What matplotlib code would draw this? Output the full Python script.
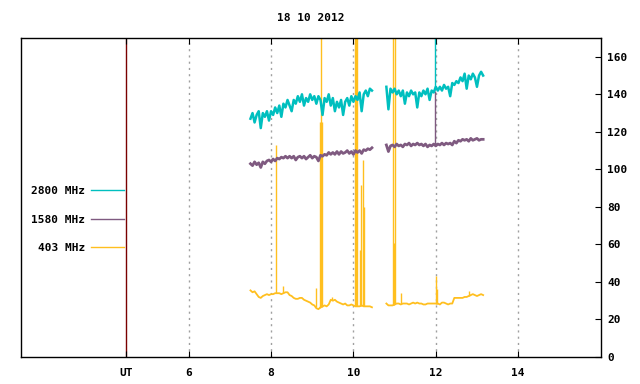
"""Solar radio flux record, 18 10 2012 (three frequencies, UT hours)."""

import numpy as np
import matplotlib
matplotlib.use("Agg")
import matplotlib.pyplot as plt

# time grid of the two recording segments (UT hours)
t_seg1 = [7.50, 7.55, 7.60, 7.65, 7.70, 7.75, 7.80, 7.85, 7.90, 7.95,
          8.00, 8.05, 8.10, 8.15, 8.20, 8.25, 8.30, 8.35, 8.40, 8.45,
          8.50, 8.55, 8.60, 8.65, 8.70, 8.75, 8.80, 8.85, 8.90, 8.95,
          9.00, 9.05, 9.10, 9.15, 9.20, 9.25, 9.30, 9.35, 9.40, 9.45,
          9.50, 9.55, 9.60, 9.65, 9.70, 9.75, 9.80, 9.85, 9.90, 9.95,
          10.00, 10.05, 10.10, 10.15, 10.20, 10.25, 10.30, 10.35, 10.40, 10.45]
t_seg2 = [10.80, 10.85, 10.90, 10.95, 11.00, 11.05, 11.10, 11.15, 11.20, 11.25,
          11.30, 11.35, 11.40, 11.45, 11.50, 11.55, 11.60, 11.65, 11.70, 11.75,
          11.80, 11.85, 11.90, 11.95, 12.00, 12.05, 12.10, 12.15, 12.20, 12.25,
          12.30, 12.35, 12.40, 12.45, 12.50, 12.55, 12.60, 12.65, 12.70, 12.75,
          12.80, 12.85, 12.90, 12.95, 13.00, 13.05, 13.10, 13.15]

f2800_seg1 = [127, 130, 125, 129, 131, 122, 130, 128, 131, 126,
              131, 129, 133, 130, 134, 128, 135, 133, 137, 134,
              131, 137, 135, 139, 136, 140, 134, 138, 136, 140,
              137, 139, 135, 139, 137, 129, 138, 136, 140, 134,
              138, 131, 136, 133, 137, 129, 136, 138, 134, 139,
              136, 139, 137, 141, 131, 140, 142, 139, 143, 142]
f2800_seg2 = [144, 132, 143, 141, 143, 140, 142, 139, 142, 135,
              141, 139, 142, 140, 141, 133, 141, 139, 142, 140,
              143, 137, 142, 141, 144, 142, 144, 142, 145, 143,
              144, 139, 146, 145, 147, 146, 149, 147, 151, 143,
              150, 148, 151, 149, 144, 150, 152, 150]

f1580_seg1 = [103, 102, 104, 102.5, 103.5, 101, 104, 103, 104.5, 105,
              104, 105.5, 104.5, 106, 105.5, 106.5, 106, 107, 106, 107,
              106, 107, 105, 106.5, 107, 106, 107, 105.5, 106.5, 107.5,
              106, 107, 106.5, 104.5, 107.5, 107, 108, 107.5, 109, 108,
              109, 108, 109.5, 108, 109.5, 108.5, 109, 110, 108.5, 109.5,
              108, 110, 109, 110, 108.5, 110.5, 110, 111, 110.5, 111.5]
f1580_seg2 = [113, 109.5, 112.5, 113, 112, 113.5, 112.5, 113, 112, 113.5,
              113, 114, 112.5, 113.5, 113, 114, 113, 113.5, 112.5, 113.5,
              112, 113, 112.5, 113.5, 112.5, 113.5, 113, 114, 113, 114,
              113.5, 114, 113, 115, 114, 115.5, 115, 116, 115.5, 116,
              115, 116.5, 115.5, 116, 116.5, 115.5, 116, 116]

f403_seg1 = [35.5, 34.5, 35, 33.5, 32, 31.5, 32.5, 33, 33.5, 33,
             33.5, 33.5, 34, 34, 34, 33.5, 34, 34.5, 34.5, 33,
             32.5, 31.5, 31, 31, 31.5, 31.5, 30.5, 30, 29.5, 29,
             28, 27.5, 26, 25.5, 26.5, 27, 27.5, 27, 28, 30.5,
             30, 30.5, 29.5, 29, 28.5, 28, 28.5, 27.5, 27.5, 28,
             27.5, 27, 27, 27, 27.5, 27, 27, 27, 27, 26.5]
f403_seg2 = [28.5, 27.5, 27.5, 27.5, 28, 28.5, 28.5, 28, 28.5, 28.5,
             28.5, 28, 28.5, 29, 28.5, 29, 28.5, 28.5, 28, 28,
             28.5, 28.5, 28.5, 28.5, 28.5, 28.5, 28, 29, 29, 28.5,
             28, 28.5, 28.5, 31.5, 31.5, 31.5, 31.5, 31.5, 32, 32,
             32.5, 33, 33.5, 33, 32.5, 33, 33.5, 33]

# single-sample bursts (time, peak value)
burst403_t = [8.12, 8.29, 9.08, 9.19, 9.21, 9.23, 9.47, 10.04, 10.06, 10.08,
              10.16, 10.19, 10.23, 10.25, 10.97, 10.99, 11.01, 11.16, 12.01, 12.03, 12.80]
burst403_v = [113, 38, 37, 125, 175, 125, 32, 175, 175, 175,
              57, 91.5, 105, 80, 175, 60.5, 175, 34, 43, 36, 35]
burst2800_t = [11.97]
burst2800_v = [175]
burst1580_t = [11.97]
burst1580_v = [142]

labels = ["2800 MHz", "1580 MHz", "403 MHz"]
colors = ["#00bfbf", "#7f5a80", "#ffbf1f"]
widths = [1.8, 2.0, 1.3]
ut_pos = 4.47
xticks = [6, 8, 10, 12, 14]
yticks = [0, 20, 40, 60, 80, 100, 120, 140, 160]

FONT = ["DejaVu Sans Mono"]
plt.rcParams["font.family"] = FONT
plt.rcParams["font.weight"] = "bold"
plt.rcParams["font.size"] = 8

fig = plt.figure(figsize=(6.4, 3.84), dpi=100)
ax = fig.add_axes([0.0323, 0.0703, 0.906, 0.8307])

series = [
    (f2800_seg1, f2800_seg2, burst2800_t, burst2800_v),
    (f1580_seg1, f1580_seg2, burst1580_t, burst1580_v),
    (f403_seg1, f403_seg2, burst403_t, burst403_v),
]
t_all = np.array(t_seg1 + t_seg2)
handles = []
# draw back to front: 403 first so the others sit on top
for (s1, s2, bt, bv), lab, col, lw in list(zip(series, labels, colors, widths))[::-1]:
    ax.plot(t_seg1, s1, color=col, lw=lw)
    ax.plot(t_seg2, s2, color=col, lw=lw)
    base = np.interp(bt, t_all, np.array(s1 + s2))
    ax.vlines(bt, base, bv, color=col, lw=1.0)
    ln, = ax.plot([], [], color=col, lw=1.0)
    handles.insert(0, ln)

for x in xticks:
    ax.axvline(x, color="#a0a0a0", lw=1.0, ls=(0, (1.5, 3)), zorder=0)
ax.axvline(ut_pos, color="#7a0000", lw=1.0, zorder=0)

ax.set_xlim(1.92, 16.0)
ax.set_ylim(0, 170)
ax.set_xticks([ut_pos] + xticks)
ax.set_xticklabels(["UT"] + [str(x) for x in xticks])
ax.set_yticks(yticks)
ax.yaxis.tick_right()
ax.tick_params(axis="x", direction="in", top=True, bottom=True, length=4, pad=8)
ax.tick_params(axis="y", direction="in", left=False, right=True, length=4, pad=5)
for sp in ax.spines.values():
    sp.set_linewidth(1.0)

fig.text(0.485, 0.953, "18 10 2012", ha="center", va="center", fontweight="bold")

ax.legend(handles=handles, labels=labels, markerfirst=False, frameon=False,
          loc="upper right", bbox_to_anchor=(124 / 640, 1 - 186 / 384),
          bbox_transform=fig.transFigure, borderpad=0, borderaxespad=0,
          handlelength=3.0, handletextpad=0.5, labelspacing=1.68)

fig.savefig("out.png", dpi=100)
